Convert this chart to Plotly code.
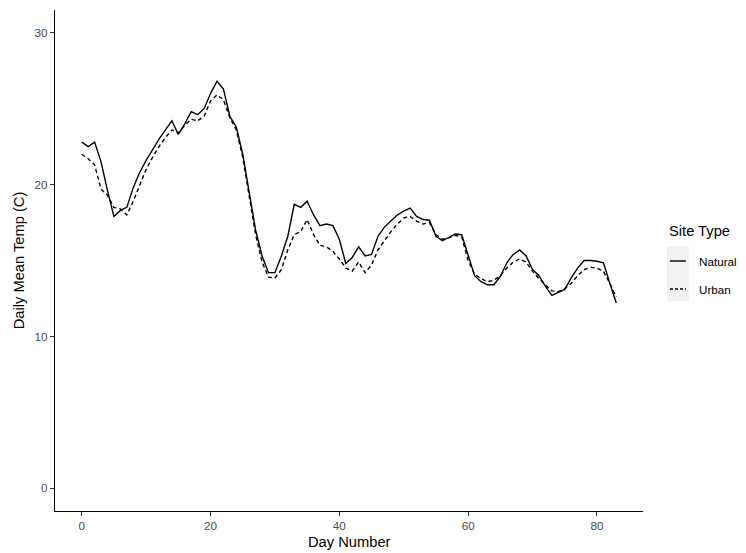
import plotly.graph_objects as go

days = list(range(84))
natural = [22.8, 22.5, 22.8, 21.5, 19.6, 17.9, 18.3, 18.5, 19.8, 20.8,
           21.6, 22.3, 23.0, 23.6, 24.2, 23.3, 24.0, 24.8, 24.6, 25.0,
           26.0, 26.8, 26.3, 24.5, 23.8, 22.0, 19.5, 17.0, 15.3, 14.2,
           14.2, 15.3, 16.6, 18.7, 18.5, 18.9, 18.0, 17.3, 17.4, 17.3,
           16.4, 14.8, 15.2, 15.9, 15.3, 15.4, 16.6, 17.2, 17.6, 18.0,
           18.25, 18.45, 17.9, 17.7, 17.65, 16.6, 16.3, 16.55, 16.75, 16.7,
           15.3, 14.0, 13.6, 13.4, 13.4, 13.95, 14.85, 15.4, 15.7, 15.3,
           14.4, 14.0, 13.3, 12.7, 12.9, 13.1, 13.85, 14.5, 15.0, 15.0,
           14.95, 14.85, 13.5, 12.2]
urban = [22.0, 21.7, 21.3, 19.7, 19.3, 18.5, 18.4, 18.0, 18.9, 20.0,
         21.0, 21.8, 22.5, 23.1, 23.6, 23.4, 23.9, 24.3, 24.2, 24.5,
         25.5, 25.9, 25.6, 24.4, 23.6, 21.8, 19.2, 16.7, 14.9, 13.9,
         13.85, 14.4, 15.7, 16.7, 16.9, 17.7, 16.7, 16.0, 15.9, 15.6,
         15.1, 14.5, 14.3, 14.9, 14.2, 14.7, 15.7, 16.3, 16.9, 17.4,
         17.8, 17.9, 17.6, 17.4, 17.5, 16.7, 16.4, 16.5, 16.65, 16.55,
         15.0, 14.1, 13.8, 13.6, 13.7, 14.0, 14.5, 14.9, 15.1, 14.9,
         14.3, 13.8, 13.4, 13.0, 12.95, 13.15, 13.5, 14.0, 14.4, 14.55,
         14.5, 14.3, 13.5, 12.6]
series_names = ["Natural", "Urban"]
x_ticks = [0, 20, 40, 60, 80]
y_ticks = [0, 10, 20, 30]

# page body has an 8px margin; figure placed so the plot lands where the reference has it
OFF = 8
W, H = 746 - 2 * OFF, 553 - OFF
# target plot area on screen: x 55..643, y 10..511
SL, SR, ST, SB = 55, 643, 10, 511
ML, MT = SL - OFF, ST - OFF
MR = W - (SR - OFF)
MB = H - (SB - OFF)
PW, PH = SR - SL, SB - ST
FONT = "Liberation Sans, Arial, Helvetica, sans-serif"
TICK_GREY = "#4D4D4D"


def px_x(sx):
    return (sx - SL) / PW


def px_y(sy):
    return (SB - sy) / PH


fig = go.Figure()
fig.add_trace(go.Scatter(x=days, y=natural, mode="lines", name=series_names[0],
                         line=dict(color="black", width=1.4), showlegend=False))
fig.add_trace(go.Scatter(x=days, y=urban, mode="lines", name=series_names[1],
                         line=dict(color="black", width=1.4, dash="4px,3px"),
                         showlegend=False))

axis_common = dict(showgrid=False, zeroline=False, showline=True,
                   linecolor="black", linewidth=1.1, ticks="outside",
                   ticklen=4, tickwidth=1.1, tickcolor="#333333",
                   tickfont=dict(family=FONT, size=11.7, color=TICK_GREY))

fig.update_xaxes(range=[-4.15, 87.15], tickvals=x_ticks,
                 ticktext=[str(v) for v in x_ticks],
                 **axis_common)
fig.update_yaxes(range=[-1.5, 31.5], tickvals=y_ticks,
                 ticktext=[str(v) for v in y_ticks],
                 title=dict(text="Daily Mean Temp (C)", standoff=6,
                            font=dict(family=FONT, size=14.7, color="black")),
                 **axis_common)

# manual legend (ggplot style)
shapes = [dict(type="rect", xref="paper", yref="paper",
               x0=px_x(667), x1=px_x(689), y0=px_y(301), y1=px_y(246),
               fillcolor="#F2F2F2", line=dict(width=0), layer="below")]
key_y = [261, 289]
dashes = ["solid", "3px,2px"]
for ky, d in zip(key_y, dashes):
    shapes.append(dict(type="line", xref="paper", yref="paper",
                       x0=px_x(670), x1=px_x(686), y0=px_y(ky), y1=px_y(ky),
                       line=dict(color="black", width=1.4, dash=d)))
annotations = [
    dict(text="Day Number", xref="paper", yref="paper",
         x=0.5, y=px_y(542), xanchor="center", yanchor="middle",
         showarrow=False, font=dict(family=FONT, size=14.7, color="black")),
    dict(text="Site Type", xref="paper", yref="paper",
         x=px_x(667), y=px_y(231), xanchor="left", yanchor="middle",
         showarrow=False, font=dict(family=FONT, size=14.7, color="black")),
]
for ky, name in zip(key_y, series_names):
    annotations.append(dict(text=name, xref="paper", yref="paper",
                            x=px_x(697), y=px_y(ky), xanchor="left", yanchor="middle",
                            showarrow=False,
                            font=dict(family=FONT, size=11.7, color="black")))

fig.update_layout(template="none", width=W, height=H,
                  margin=dict(l=ML, r=MR, t=MT, b=MB, autoexpand=False),
                  plot_bgcolor="white", paper_bgcolor="white",
                  shapes=shapes, annotations=annotations, showlegend=False)

fig.write_html("out.html")
